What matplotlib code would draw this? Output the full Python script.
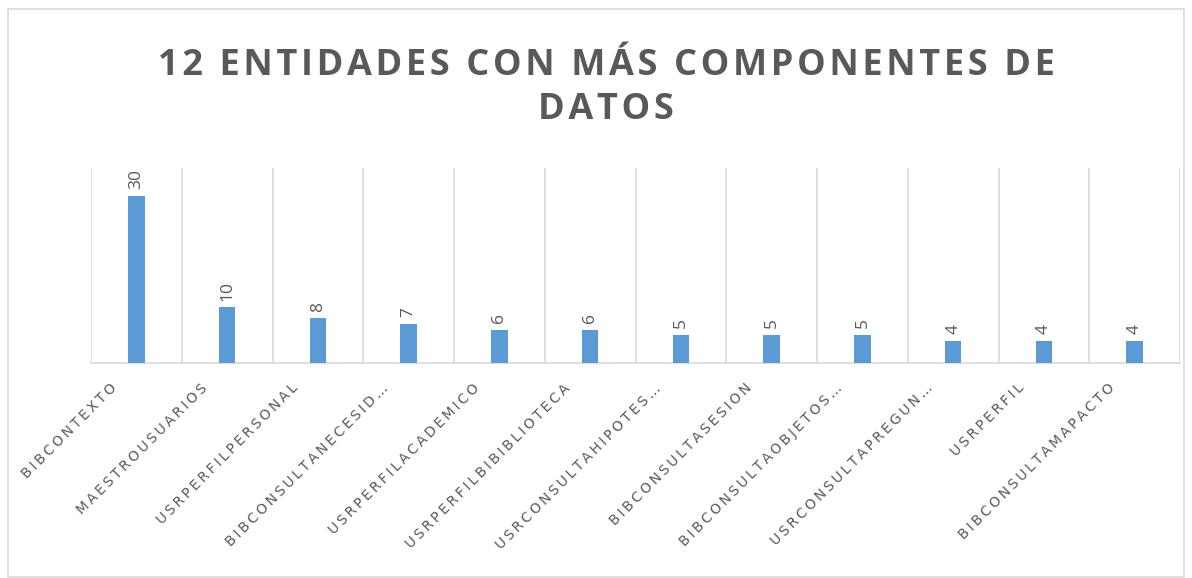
import matplotlib
matplotlib.use("Agg")
import matplotlib.pyplot as plt
import matplotlib.transforms as mtransforms
import numpy as np

entidades = ["BIBCONTEXTO", "MAESTROUSUARIOS", "USRPERFILPERSONAL",
             "BIBCONSULTANECESID…", "USRPERFILACADEMICO", "USRPERFILBIBIBLIOTECA",
             "USRCONSULTAHIPOTES…", "BIBCONSULTASESION", "BIBCONSULTAOBJETOS…",
             "USRCONSULTAPREGUN…", "USRPERFIL", "BIBCONSULTAMAPACTO"]
componentes = [30, 10, 8, 7, 6, 6, 5, 5, 5, 4, 4, 4]

titulo = "12 ENTIDADES CON MÁS COMPONENTES DE\nDATOS"

gris = "#595959"
azul = "#5B9BD5"
rejilla = "#D9D9D9"

plt.rcParams['font.family'] = ['DejaVu Sans']


def espaciar(s, sep):
    return "\n".join(sep.join(linea) for linea in s.split("\n"))


fig = plt.figure(figsize=(11.92, 5.78), dpi=100)
ax = fig.add_axes([91 / 1192, 1 - 363 / 578, 1089 / 1192, 195 / 578])

x = np.arange(len(entidades))
ax.bar(x, componentes, width=0.18, color=azul, zorder=3)
for xi, v in zip(x, componentes):
    ax.text(xi, v + 1.2, str(v), rotation=90, ha="center", va="bottom",
            fontsize=12.5, color=gris, family="Open Sans")

ax.set_xlim(-0.5, len(entidades) - 0.5)
ax.set_ylim(0, 35)
ax.set_yticks([])
ax.set_xticks(x)
ax.set_xticklabels([espaciar(e, "\u2009") for e in entidades],
                   rotation=45, ha="right", rotation_mode="anchor",
                   fontsize=10, color=gris, family="DejaVu Sans")
ax.tick_params(axis="x", length=0, pad=13)
desplazar = mtransforms.ScaledTranslation(-27 / 100, 0, fig.dpi_scale_trans)
for lab in ax.get_xticklabels():
    lab.set_transform(lab.get_transform() + desplazar)
for b in np.arange(-0.5, len(entidades), 1.0):
    ax.axvline(b, color=rejilla, lw=1.2, zorder=1)
for s in ["top", "right", "left"]:
    ax.spines[s].set_visible(False)
ax.spines["bottom"].set_color(rejilla)
ax.spines["bottom"].set_linewidth(1.2)

fig.text(606 / 1192, 1 - 88 / 578, espaciar(titulo, "\u200a"), ha="center", va="center",
         fontsize=26, fontweight="bold", color=gris, linespacing=1.3,
         family="Open Sans")

fig.patches.append(plt.Rectangle((8 / 1192, 0.002), 1176 / 1192, 1 - 10 / 578,
                                 transform=fig.transFigure, fill=False,
                                 edgecolor=rejilla, lw=1.2))

plt.savefig("out.png", dpi=100)
